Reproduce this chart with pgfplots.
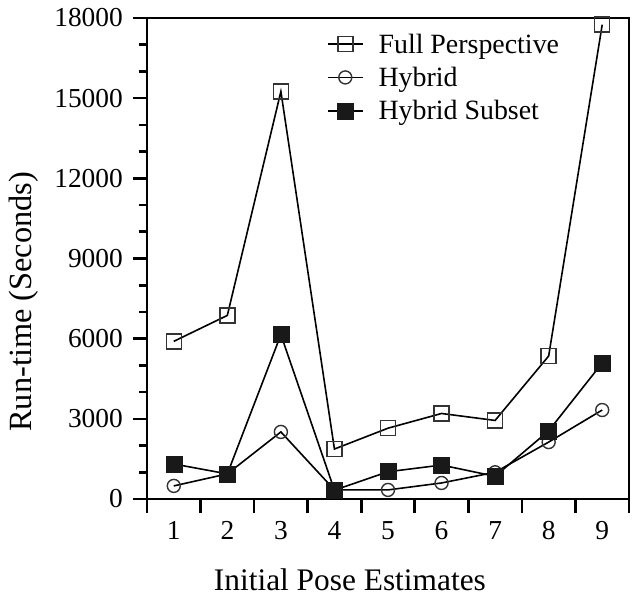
\documentclass[border=0pt]{standalone}
\usepackage{fontspec}
\setmainfont{Liberation Serif}
\usepackage{pgfplots}
\pgfplotsset{compat=1.18}
\begin{document}
\begin{tikzpicture}
\begin{axis}[
  at={(0,0)}, anchor=south west,
  scale only axis, width=482bp, height=481bp,
  xmin=0.5, xmax=9.5, ymin=0, ymax=18000,
  axis line style={line width=2.6bp},
  every tick/.style={line width=2.6bp, black},
  tick align=outside,
  xtick pos=bottom, ytick pos=left,
  major tick length=14bp, minor tick length=8bp,
  xtick={0.5,1.5,...,9.5},
  xticklabels={1,2,3,4,5,6,7,8,9,{}},
  xticklabel style={xshift=26.8bp, font=\fontsize{27.5}{27.5}\selectfont, anchor=north, inner sep=0pt, yshift=-8bp},
  ytick={0,3000,...,18000},
  minor y tick num=2,
  yticklabel style={font=\fontsize{27.5}{27.5}\selectfont, anchor=east, inner sep=0pt, xshift=-10bp},
  /pgf/number format/assume math mode=true,
  scaled y ticks=false,
  yticklabel={\pgfmathprintnumber[fixed,1000 sep={}]{\tick}},
  every axis x label/.style={at={(axis description cs:0.421,0)}, anchor=center, yshift=-81bp, font=\fontsize{31.5}{31.5}\selectfont},
  every axis y label/.style={at={(axis description cs:0,0.41)}, rotate=90, anchor=center, yshift=123bp, font=\fontsize{32.5}{32.5}\selectfont},
  xlabel={Initial Pose Estimates},
  ylabel={Run-time (Seconds)},
  legend cell align=left,
  legend style={draw=none, fill=none, at={(0.373,0.972)}, anchor=north west, inner sep=0pt, font=\fontsize{28}{28}\selectfont, row sep=8.5bp,
    /tikz/every odd column/.append style={column sep=13bp}},
  legend image code/.code={\draw[mark repeat=2,mark phase=2] plot coordinates {(0bp,0bp) (17.5bp,0bp) (35bp,0bp)};},
  every axis plot/.append style={line width=1.6bp, black},
]
\addplot[mark=square, mark size=7.5bp, mark options={line width=1.5bp, draw=black!80}] coordinates {
(1,5900) (2,6870) (3,15250) (4,1870) (5,2650) (6,3200) (7,2940) (8,5350) (9,17750)};
\addlegendentry{Full Perspective}
\addplot[mark=o, mark size=6.5bp, mark options={line width=1.4bp, draw=black!80}] coordinates {
(1,490) (2,940) (3,2510) (4,340) (5,340) (6,600) (7,1000) (8,2130) (9,3330)};
\addlegendentry{Hybrid}
\addplot[mark=square*, mark size=8bp, mark options={line width=0.5bp, fill=black!90, draw=black!90}] coordinates {
(1,1310) (2,940) (3,6150) (4,330) (5,1020) (6,1270) (7,850) (8,2550) (9,5090)};
\addlegendentry{Hybrid Subset}
\end{axis}
\pgfresetboundingbox
\path (-147bp,-102bp) rectangle (489bp,499bp);
\end{tikzpicture}
\end{document}
